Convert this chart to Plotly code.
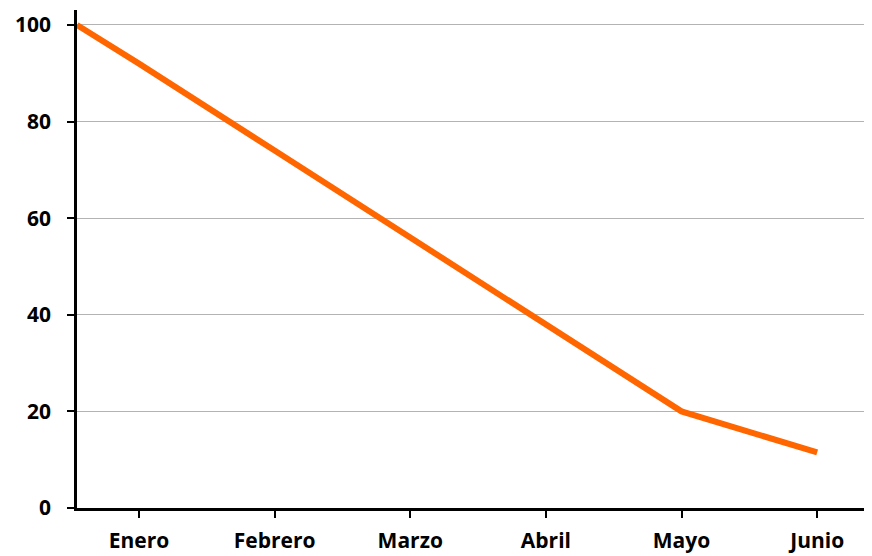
import plotly.graph_objects as go

months = ["Enero", "Febrero", "Marzo", "Abril", "Mayo", "Junio"]
values = [92, 74, 56, 38, 20, 11.5]
start_value = 100
y_ticks = [0, 20, 40, 60, 80, 100]

x_range = [-0.457, 5.36]
cat_pos = list(range(len(months)))

fig = go.Figure()
fig.add_trace(go.Scatter(
    x=[x_range[0]] + cat_pos,
    y=[start_value] + values,
    mode="lines",
    line=dict(color="#FF6600", width=6),
    hoverinfo="skip",
    showlegend=False,
))

font = dict(family="'Open Sans', Lato, sans-serif", size=21, color="#000000")

fig.update_layout(
    width=864, height=548,
    margin=dict(l=69, r=6, t=2, b=40),
    paper_bgcolor="white", plot_bgcolor="white",
    font=font,
    xaxis=dict(
        range=x_range, tickmode="array", tickvals=cat_pos, ticktext=["<b>%s</b>" % m for m in months],
        showgrid=False, zeroline=False, showline=True, linecolor="#000000", linewidth=2.5,
        ticks="outside", ticklen=7, tickwidth=2, tickcolor="#000000",
        ticklabelstandoff=5,
    ),
    yaxis=dict(
        range=[0, 103.1], tickmode="array", tickvals=y_ticks, ticktext=["<b>%d</b>" % v for v in y_ticks],
        showgrid=True, gridcolor="#b3b3b3", gridwidth=1, zeroline=False,
        showline=True, linecolor="#000000", linewidth=2.5,
        ticks="outside", ticklen=7, tickwidth=2, tickcolor="#000000",
        ticklabelstandoff=12,
    ),
)

fig.write_html("out.html")
